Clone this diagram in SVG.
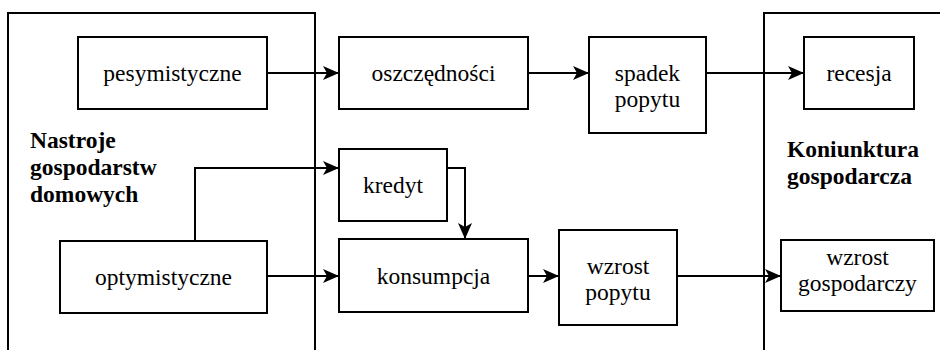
<svg xmlns="http://www.w3.org/2000/svg" width="940" height="350" viewBox="0 0 940 350">
<style>
.box{fill:#fff;stroke:#000;stroke-width:2}
.frame{fill:none;stroke:#000;stroke-width:2}
.c{fill:none;stroke:#000;stroke-width:2}
text{font-family:"Liberation Serif","Times New Roman",serif;font-size:23.5px;fill:#000}
.t{text-anchor:middle}
.b{font-weight:bold}
</style>
<defs>
<marker id="ah" markerUnits="userSpaceOnUse" markerWidth="16" markerHeight="14" refX="16" refY="7" orient="auto" viewBox="0 0 16 14">
<path d="M0,0 L16,7 L0,14 L4,7 Z" fill="#000"/>
</marker>
</defs>
<rect width="940" height="350" fill="#fff"/>
<g id="group-households">
<path class="frame" d="M8,351 V13 H315 V351"/>
<text class="b" x="30" y="148">Nastroje</text>
<text class="b" x="30" y="175">gospodarstw</text>
<text class="b" x="30" y="202">domowych</text>
</g>
<g id="group-economy">
<path class="frame" d="M764,351 V13 H942"/>
<text class="b" x="787" y="157">Koniunktura</text>
<text class="b" x="787" y="184">gospodarcza</text>
</g>
<g id="connectors">
<path class="c" d="M267,73 H339" marker-end="url(#ah)"/>
<path class="c" d="M528,73 H589" marker-end="url(#ah)"/>
<path class="c" d="M706,73 H804" marker-end="url(#ah)"/>
<path class="c" d="M195,241 V168 H339" marker-end="url(#ah)"/>
<path class="c" d="M447,168 H465 V239" marker-end="url(#ah)"/>
<path class="c" d="M267,276 H339" marker-end="url(#ah)"/>
<path class="c" d="M528,276 H559" marker-end="url(#ah)"/>
<path class="c" d="M677,276 H781" marker-end="url(#ah)"/>
</g>
<g id="pesymistyczne">
<rect class="box" x="78" y="37" width="189" height="72"/>
<text class="t" x="172.5" y="81">pesymistyczne</text>
</g>
<g id="optymistyczne">
<rect class="box" x="60" y="241" width="207" height="72"/>
<text class="t" x="163.5" y="285">optymistyczne</text>
</g>
<g id="oszczednosci">
<rect class="box" x="339" y="37" width="189" height="72"/>
<text class="t" x="433.5" y="81">oszczędności</text>
</g>
<g id="kredyt">
<rect class="box" x="339" y="149" width="108" height="72"/>
<text class="t" x="393" y="193">kredyt</text>
</g>
<g id="konsumpcja">
<rect class="box" x="339" y="239" width="189" height="73"/>
<text class="t" x="433.5" y="284">konsumpcja</text>
</g>
<g id="spadek-popytu">
<rect class="box" x="589" y="37" width="117" height="96"/>
<text class="t" x="647.5" y="81">spadek</text>
<text class="t" x="647.5" y="107">popytu</text>
</g>
<g id="wzrost-popytu">
<rect class="box" x="559" y="230" width="118" height="95"/>
<text class="t" x="618" y="274">wzrost</text>
<text class="t" x="618" y="300">popytu</text>
</g>
<g id="recesja">
<rect class="box" x="804" y="37" width="110" height="72"/>
<text class="t" x="859" y="81">recesja</text>
</g>
<g id="wzrost-gospodarczy">
<rect class="box" x="781" y="240" width="153" height="71"/>
<text class="t" x="857.5" y="265">wzrost</text>
<text class="t" x="857.5" y="291">gospodarczy</text>
</g>
</svg>
